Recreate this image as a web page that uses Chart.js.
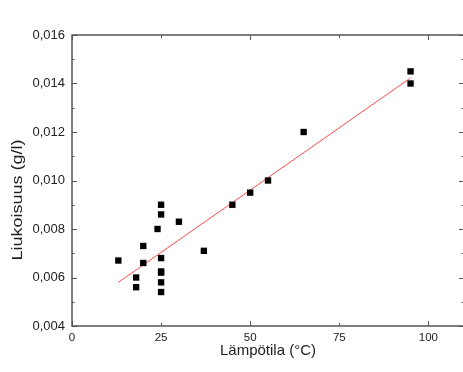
<!DOCTYPE html>
<html>
<head>
<meta charset="utf-8">
<script src="https://cdn.jsdelivr.net/npm/chart.js@4.4.0/dist/chart.umd.min.js"></script>
<style>
  body { margin: 0; overflow: hidden; background: #fff; }
  #wrap { width: 470px; height: 372px; }
</style>
</head>
<body>
<div id="wrap"><canvas id="chart" width="470" height="372"></canvas></div>
<script>
// measured points: temperature (°C) and solubility (g/l)
const temps = [13, 18, 18, 20, 20, 24, 25, 25, 25, 25, 25, 25, 25, 30, 37, 45, 50, 55, 65, 95, 95];
const solubility = [0.0067, 0.0060, 0.0056, 0.0073, 0.0066, 0.0080, 0.0090, 0.0086, 0.0068, 0.00625, 0.0062,
    0.0058, 0.0054, 0.0083, 0.0071, 0.0090, 0.0095, 0.0100, 0.0120, 0.0145, 0.0140];

// linear fit
const fitTemps = [13, 95];
const fitSolubility = [0.0058, 0.01423];

const xTicks = [0, 25, 50, 75, 100];
const yTicks = [0.004, 0.006, 0.008, 0.010, 0.012, 0.014, 0.016];

const xTitle = 'Lämpötila (°C)';
const yTitle = 'Liukoisuus (g/l)';

const axisColor = '#555555';

// box frame, inward ticks and axis titles
const framePlugin = {
    id: 'frame',
    afterDraw(chart) {
        const ctx = chart.ctx;
        const a = chart.chartArea;
        const xs = chart.scales.x;
        const ys = chart.scales.y;
        ctx.save();
        ctx.strokeStyle = axisColor;
        ctx.lineWidth = 1.5;
        ctx.strokeRect(a.left, a.top, a.right - a.left, a.bottom - a.top);

        ctx.lineWidth = 1;
        ctx.beginPath();
        xTicks.forEach(v => {
            const px = Math.round(xs.getPixelForValue(v)) + 0.5;
            const len = v % 50 === 0 ? 5 : 3;
            ctx.moveTo(px, a.bottom); ctx.lineTo(px, a.bottom - len);
            ctx.moveTo(px, a.top); ctx.lineTo(px, a.top + len);
        });
        yTicks.forEach((v, i) => {
            const py = Math.round(ys.getPixelForValue(v)) + 0.5;
            ctx.moveTo(a.left, py); ctx.lineTo(a.left + 5, py);
            ctx.moveTo(a.right, py); ctx.lineTo(a.right - 5, py);
            if (i < yTicks.length - 1) {
                const my = Math.round(ys.getPixelForValue((v + yTicks[i + 1]) / 2)) + 0.5;
                ctx.moveTo(a.left, my); ctx.lineTo(a.left + 2.5, my);
                ctx.moveTo(a.right, my); ctx.lineTo(a.right - 2.5, my);
            }
        });
        ctx.stroke();

        ctx.fillStyle = '#222';
        ctx.textAlign = 'center';
        ctx.textBaseline = 'middle';
        ctx.font = '15px "Liberation Sans", Arial, sans-serif';
        ctx.fillText(xTitle, (a.left + a.right) / 2, 351);

        ctx.translate(18, 200);
        ctx.rotate(-Math.PI / 2);
        ctx.scale(1.2, 1);
        ctx.fillText(yTitle, 0, 0);
        ctx.restore();
    }
};

const ctx = document.getElementById('chart').getContext('2d');
const chart = new Chart(ctx, {
    type: 'scatter',
    data: {
        datasets: [{
            label: 'data',
            data: temps.map((t, i) => ({ x: t, y: solubility[i] })),
            pointStyle: 'rect',
            pointRadius: 4.5,
            pointBorderWidth: 0,
            backgroundColor: '#000',
            borderColor: '#000'
        }, {
            label: 'fit',
            data: fitTemps.map((t, i) => ({ x: t, y: fitSolubility[i] })),
            showLine: true,
            pointRadius: 0,
            borderColor: 'rgba(255, 40, 40, 0.85)',
            borderWidth: 1
        }]
    },
    options: {
        responsive: false,
        animation: false,
        layout: { padding: { left: 0, top: 35, right: 6, bottom: 0 } },
        plugins: {
            legend: { display: false },
            tooltip: { enabled: false }
        },
        scales: {
            x: {
                type: 'linear',
                min: 0,
                max: 110,
                grid: { display: false, drawTicks: false },
                border: { display: false },
                afterBuildTicks: s => { s.ticks = xTicks.map(v => ({ value: v })); },
                afterFit: s => { s.height = 46; },
                ticks: {
                    padding: 5,
                    color: '#222',
                    font: { family: '"Liberation Sans", Arial, sans-serif', size: 11.5 }
                }
            },
            y: {
                type: 'linear',
                min: 0.004,
                max: 0.016,
                grid: { display: false, drawTicks: false },
                border: { display: false },
                afterBuildTicks: s => { s.ticks = yTicks.map(v => ({ value: v })); },
                afterFit: s => { s.width = 72; },
                ticks: {
                    padding: 7,
                    color: '#222',
                    font: { family: '"Liberation Sans", Arial, sans-serif', size: 13 },
                    callback: v => v.toFixed(3).replace('.', ',')
                }
            }
        }
    },
    plugins: [framePlugin]
});
</script>
</body>
</html>
